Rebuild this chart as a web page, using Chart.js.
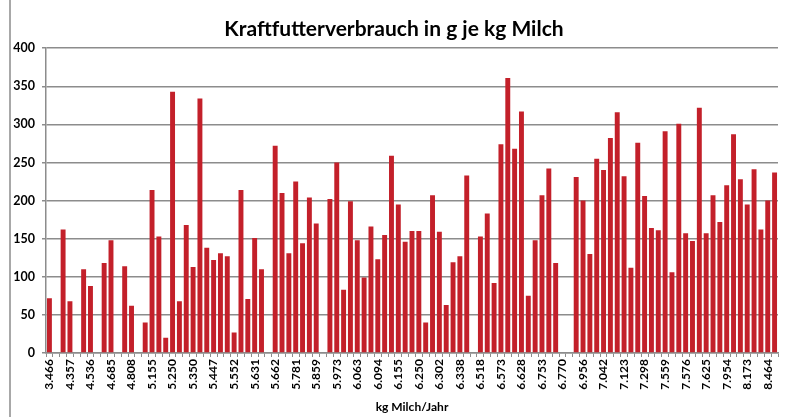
<!DOCTYPE html>
<html>
<head>
<meta charset="utf-8">
<script src="https://cdn.jsdelivr.net/npm/chart.js@4/dist/chart.umd.min.js"></script>
<style>
  body { margin: 0; background: #fff; }
  #wrap { position: relative; width: 803px; height: 417px; }
</style>
</head>
<body>
<div id="wrap"><canvas id="futterChart" width="803" height="417"></canvas></div>
<script>
// Beschriftungen der x-Achse (nur jede dritte Kategorie ist beschriftet)
const tickLabels = ['3.466', '4.357', '4.536', '4.685', '4.808', '5.155', '5.250', '5.350', '5.447',
    '5.552', '5.631', '5.662', '5.781', '5.859', '5.973', '6.063', '6.094', '6.155', '6.250', '6.302',
    '6.338', '6.518', '6.573', '6.628', '6.753', '6.770', '6.956', '7.042', '7.123', '7.298', '7.559',
    '7.576', '7.625', '7.954', '8.173', '8.464'];

// Kraftfutter in g je kg Milch, ein Wert pro Betrieb
const verbrauch = [
    72, null, 162, 68, null, 110, 88, null, 118, 148,
    null, 114, 62, null, 40, 214, 153, 20, 343, 68,
    168, 113, 334, 138, 122, 131, 127, 27, 214, 71,
    151, 110, null, 272, 210, 131, 225, 144, 204, 170,
    null, 202, 250, 83, 199, 148, 99, 166, 123, 155,
    259, 195, 146, 160, 160, 40, 207, 159, 63, 119,
    127, 233, null, 153, 183, 92, 274, 361, 268, 317,
    75, 148, 207, 242, 118, null, null, 231, 200, 130,
    255, 240, 282, 316, 232, 112, 276, 206, 164, 161,
    291, 106, 301, 157, 147, 322, 157, 207, 172, 220,
    287, 228, 195, 241, 162, 200, 237
];

const kategorien = verbrauch.map((v, i) => i % 3 === 0 ? tickLabels[i / 3] : '');

const fontFam = 'Lato, "Open Sans", sans-serif';
const gitter = '#8c8c8c';

// Rahmenlinie links wie im Original
const rahmen = {
    id: 'rahmen',
    beforeDraw(chart) {
        const ctx = chart.ctx;
        ctx.save();
        ctx.fillStyle = '#fff';
        ctx.fillRect(0, 0, chart.width, chart.height);
        ctx.strokeStyle = '#a8a8a8';
        ctx.lineWidth = 2;
        ctx.beginPath();
        ctx.moveTo(10, 0);
        ctx.lineTo(10, chart.height);
        ctx.stroke();
        ctx.restore();
    }
};

new Chart(document.getElementById('futterChart'), {
    type: 'bar',
    data: {
        labels: kategorien,
        datasets: [{
            data: verbrauch,
            backgroundColor: '#c3202a',
            categoryPercentage: 1,
            barPercentage: 0.72
        }]
    },
    options: {
        responsive: false,
        animation: false,
        layout: { padding: { left: 10, right: 25, top: 0, bottom: 3 } },
        plugins: {
            legend: { display: false },
            tooltip: { enabled: false },
            title: {
                display: true,
                text: 'Kraftfutterverbrauch in g je kg Milch',
                color: '#000',
                font: { family: fontFam, weight: 'bold', size: 21 },
                padding: { top: 17, bottom: 6 }
            }
        },
        scales: {
            x: {
                grid: { drawOnChartArea: false, drawTicks: true, tickLength: 4, color: gitter, offset: true },
                border: { display: true, color: gitter, width: 1.5 },
                ticks: {
                    autoSkip: false,
                    minRotation: 90,
                    maxRotation: 90,
                    padding: 2,
                    color: '#000',
                    font: { family: fontFam, weight: 'bold', size: 12 }
                },
                title: {
                    display: true,
                    text: 'kg Milch/Jahr',
                    color: '#000',
                    padding: { top: 0, bottom: 0 },
                    font: { family: fontFam, weight: 'bold', size: 12 }
                },
                afterFit: (scale) => { scale.height = 61; }
            },
            y: {
                min: 0,
                max: 400,
                grid: { color: gitter, lineWidth: 1.5, tickLength: 4 },
                border: { display: true, color: gitter, width: 1.5 },
                ticks: {
                    stepSize: 50,
                    padding: 7,
                    color: '#000',
                    font: { family: fontFam, weight: 'bold', size: 12.5 }
                },
                afterFit: (scale) => { scale.width = 36; }
            }
        }
    },
    plugins: [rahmen]
});
</script>
</body>
</html>
